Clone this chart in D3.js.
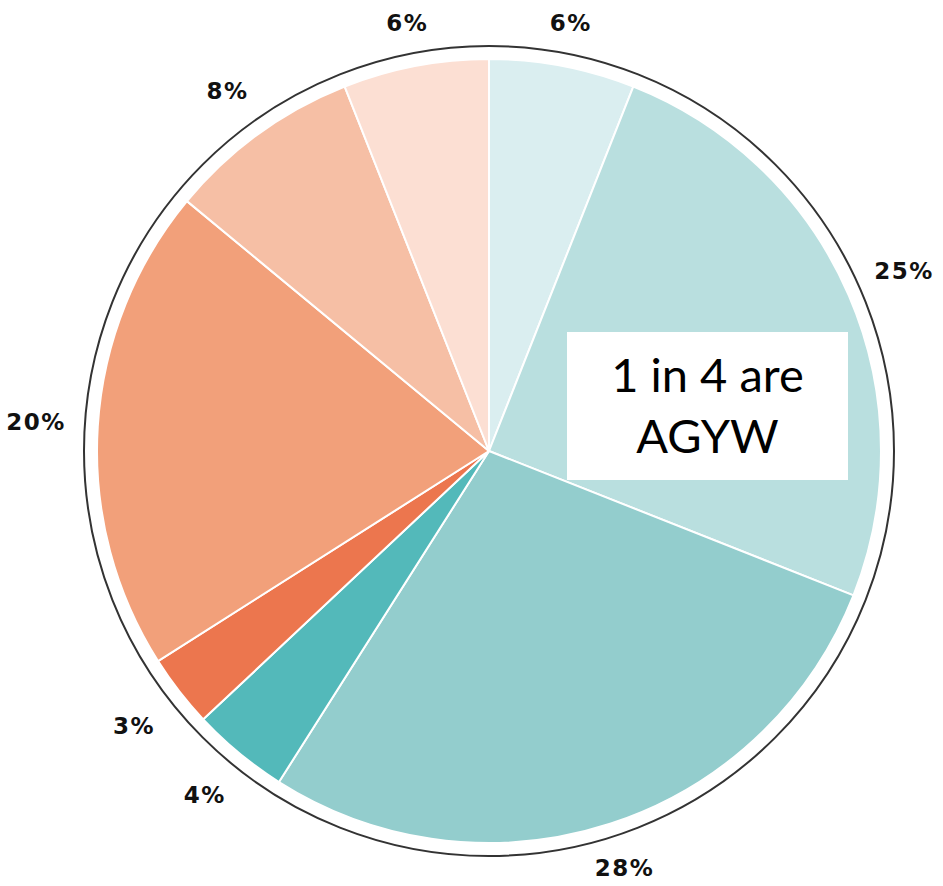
<!DOCTYPE html>
<html>
<head>
<meta charset="utf-8">
<script src="https://cdn.jsdelivr.net/npm/d3@7"></script>
<style>
  html, body { margin: 0; padding: 0; background: #ffffff; }
  svg { display: block; }
</style>
</head>
<body>
<svg id="chart" width="943" height="886"></svg>
<script>
// Shares, clockwise from 12 o'clock
const segments = ["s1", "s2", "s3", "s4", "s5", "s6", "s7", "s8"];
const shares = [6, 25, 28, 4, 3, 20, 8, 6];
const labels = ["6%", "25%", "28%", "4%", "3%", "20%", "8%", "6%"];
const palette = ["#daeef0", "#b9dfdf", "#93cdcd", "#53b9ba", "#ec764e", "#f2a07a", "#f6bfa5", "#fcdfd3"];
const calloutLines = ["1 in 4 are", "AGYW"];

const svg = d3.select("#chart");
const cx = 489, cy = 451;
const radius = 392;
const ringRadius = 405;

const color = d3.scaleOrdinal().domain(segments).range(palette);

const pie = d3.pie()
  .sort(null)
  .value((d, i) => shares[i]);

const arcs = pie(segments);
const arc = d3.arc().innerRadius(0).outerRadius(radius);

const g = svg.append("g").attr("transform", `translate(${cx},${cy})`);

// Thin outer ring
g.append("circle")
  .attr("r", ringRadius)
  .attr("fill", "none")
  .attr("stroke", "#333333")
  .attr("stroke-width", 2);

// Slices
g.selectAll("path.slice")
  .data(arcs)
  .join("path")
  .attr("class", "slice")
  .attr("d", arc)
  .attr("fill", d => color(d.data))
  .attr("stroke", "#ffffff")
  .attr("stroke-width", 2)
  .attr("stroke-linejoin", "round");

// Percentage labels outside the ring
g.selectAll("text.pct")
  .data(arcs)
  .join("text")
  .attr("class", "pct")
  .attr("text-anchor", "middle")
  .attr("dominant-baseline", "central")
  .attr("font-family", "DejaVu Sans, sans-serif")
  .attr("font-weight", "bold")
  .attr("font-size", 23)
  .attr("letter-spacing", 1.5)
  .attr("fill", "#111111")
  .attr("transform", d => {
    const a = (d.startAngle + d.endAngle) / 2;
    const r = 432 + 22 * Math.abs(Math.sin(a));
    return `translate(${r * Math.sin(a)},${-r * Math.cos(a)})`;
  })
  .text((d, i) => labels[i]);

// Callout box
const box = svg.append("g");
box.append("rect")
  .attr("x", 567).attr("y", 332)
  .attr("width", 281).attr("height", 148)
  .attr("fill", "#ffffff");
box.selectAll("text")
  .data(calloutLines)
  .join("text")
  .attr("x", 707.5)
  .attr("y", (d, i) => 392 + i * 61)
  .attr("text-anchor", "middle")
  .attr("font-family", "Lato, Open Sans, sans-serif")
  .attr("font-size", 47)
  .attr("fill", "#000000")
  .text(d => d);
</script>
</body>
</html>
